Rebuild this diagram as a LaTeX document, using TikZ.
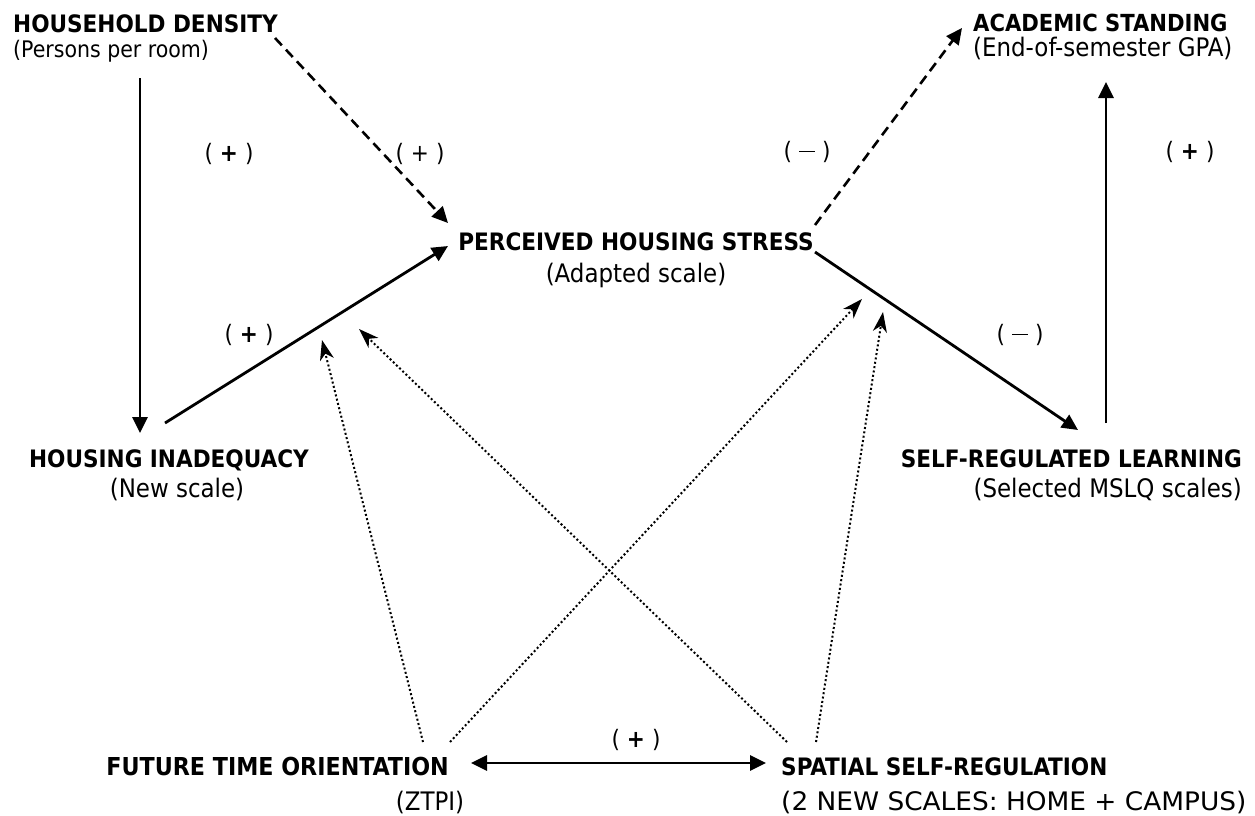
\documentclass[tikz,border=0pt]{standalone}
\usepackage{fontspec}
\setmainfont{DejaVu Sans Condensed}
\usetikzlibrary{arrows.meta}
\newcommand{\plussign}{(\hspace{7pt}\textbf{+}\hspace{7pt})}
\newcommand{\thinplus}{(\hspace{7pt}+\hspace{7pt})}
\newcommand{\minussign}{(\hspace{7pt}\rule[7.5pt]{16pt}{1.4pt}\hspace{7pt})}
\begin{document}
\begin{tikzpicture}[x=1pt,y=-1pt,
  title/.style={inner sep=0pt,font=\fontsize{24}{28}\selectfont\bfseries},
  sub/.style={inner sep=0pt,font=\fontsize{25.5}{28}\selectfont},
  sign/.style={inner sep=0pt,font=\fontsize{24}{26}\selectfont},
  solidarrow/.style={line width=2.8pt,-{Triangle[length=16pt,width=15pt]}},
  dasharrow/.style={line width=2.6pt,dash pattern=on 10pt off 6pt,-{Triangle[length=16pt,width=15pt]}},
  dotarrow/.style={line width=2pt,dash pattern=on 2pt off 2.4pt,-{Stealth[length=20pt,width=14pt,inset=6pt]}},
  bothways/.style={line width=2.8pt,{Triangle[length=16pt,width=15pt]}-{Triangle[length=16pt,width=15pt]}}]
\useasboundingbox (0,0) rectangle (1255,815);

% concepts
\node[title,anchor=base west] (hd) at (13,32) {HOUSEHOLD DENSITY};
\node[sub,anchor=base west,font=\fontsize{22.8}{28}\selectfont] (hdsub) at (13,57) {(Persons per room)};

\node[title,anchor=base west,font=\fontsize{23.5}{28}\selectfont\bfseries] (as) at (973,31) {ACADEMIC STANDING};
\node[sub,anchor=base west] (assub) at (973,56) {(End-of-semester GPA)};

\node[title,anchor=base] (phs) at (636,250) {PERCEIVED HOUSING STRESS};
\node[sub,anchor=base] (phssub) at (636,282) {(Adapted scale)};

\node[title,anchor=base] (hi) at (169,467) {HOUSING INADEQUACY};
\node[sub,anchor=base] (hisub) at (177,497) {(New scale)};

\node[title,anchor=base east] (srl) at (1242,467) {SELF-REGULATED LEARNING};
\node[sub,anchor=base east] (srlsub) at (1242,497) {(Selected MSLQ scales)};

\node[title,anchor=base east,font=\fontsize{24.7}{28}\selectfont\bfseries] (fto) at (449,775) {FUTURE TIME ORIENTATION};
\node[sub,anchor=base] (ftosub) at (430,810) {(ZTPI)};

\node[title,anchor=base west] (ssr) at (781,775) {SPATIAL SELF-REGULATION};
\node[sub,anchor=base west] (ssrsub) at (781,810) {\scalebox{1.15}[1]{(2 NEW SCALES: HOME + CAMPUS)}};

% connector ends
\coordinate (hd-down) at (140,78);
\coordinate (hi-up) at (140,433);
\coordinate (hd-diag) at (275,38);
\coordinate (phs-in1) at (448,223);
\coordinate (hi-out) at (165,423);
\coordinate (phs-in2) at (448,246);
\coordinate (phs-out1) at (815,225);
\coordinate (as-in1) at (962,28);
\coordinate (phs-out2) at (815,252);
\coordinate (srl-in) at (1078,430);
\coordinate (srl-out) at (1106,423);
\coordinate (as-in2) at (1106,82);
\coordinate (fto-o1) at (423,742);
\coordinate (fto-o2) at (450,742);
\coordinate (ssr-o1) at (787,742);
\coordinate (ssr-o2) at (816,742);
\coordinate (mod1) at (322,340);
\coordinate (mod2) at (359,329);
\coordinate (mod3) at (862,299);
\coordinate (mod4) at (883,312);
\coordinate (fto-r) at (471,763);
\coordinate (ssr-l) at (766,763);

% paths
\draw[solidarrow] (hd-down) -- (hi-up);
\draw[dasharrow] (hd-diag) -- (phs-in1);
\draw[solidarrow] (hi-out) -- (phs-in2);
\draw[dasharrow] (phs-out1) -- (as-in1);
\draw[solidarrow] (phs-out2) -- (srl-in);
\draw[solidarrow] (srl-out) -- (as-in2);
\draw[dotarrow] (fto-o1) -- (mod1);
\draw[dotarrow] (fto-o2) -- (mod3);
\draw[dotarrow] (ssr-o1) -- (mod2);
\draw[dotarrow] (ssr-o2) -- (mod4);
\draw[bothways] (fto-r) -- (ssr-l);

% signs
\node[sign] (s1) at (229,154) {\plussign};
\node[sign] (s2) at (420,154) {\thinplus};
\node[sign] (s3) at (807,152) {\minussign};
\node[sign] (s4) at (1190,152) {\plussign};
\node[sign] (s5) at (249,335) {\plussign};
\node[sign] (s6) at (1020,335) {\minussign};
\node[sign] (s7) at (636,740) {\plussign};
\end{tikzpicture}
\end{document}
